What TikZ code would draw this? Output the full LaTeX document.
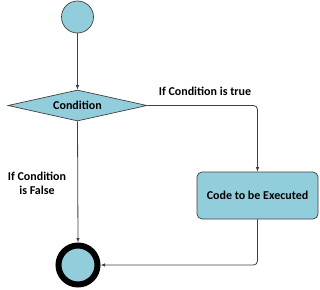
\documentclass[tikz,border=0pt]{standalone}
\usepackage{fontspec}
\setmainfont{Carlito}
\usetikzlibrary{shapes.geometric,arrows.meta}
\definecolor{shapefill}{RGB}{146,205,220}
\definecolor{edgegray}{RGB}{64,64,64}
\tikzset{
  flow/.style={draw=edgegray, line width=0.8pt, -{Latex[length=4.5pt,width=3.5pt]}, rounded corners=4pt},
  startnode/.style={circle, draw=edgegray, line width=0.7pt, fill=shapefill, minimum size=32pt, inner sep=0pt},
  endnode/.style={circle, draw=black, line width=6pt, fill=shapefill, minimum size=39pt, inner sep=0pt},
  decision/.style={diamond, draw=edgegray, line width=0.7pt, fill=shapefill, minimum width=139pt, minimum height=31pt, inner sep=0pt, aspect=4.5, font=\bfseries\fontsize{12}{14}\selectfont},
  action/.style={rectangle, rounded corners=5pt, draw=edgegray, line width=0.7pt, fill=shapefill, minimum width=121pt, minimum height=47pt, inner sep=0pt, font=\bfseries\fontsize{12}{14}\selectfont},
  lbl/.style={font=\bfseries\fontsize{12}{14}\selectfont, align=center, inner sep=0pt}
}
\begin{document}
\begin{tikzpicture}[x=1pt,y=-1pt]
\useasboundingbox (0,0) rectangle (320,289);
\node[startnode] (start) at (77.5,17) {};
\node[decision] (cond) at (77.5,105.5) {Condition};
\node[action] (code) at (257.5,195.5) {Code to be Executed};
\node[endnode] (stop) at (78,265) {};
\coordinate (c1) at (257.5,105.5);
\coordinate (c2) at (257.5,265);
\draw[flow] (start) -- (cond);
\draw[flow] (cond.east) -- (c1) -- (code.north);
\draw[flow] (cond.south) -- (stop.north);
\draw[flow] (code.south) -- (c2) -- (stop.east);
\node[lbl] (ltrue) at (205,91.5) {If Condition is true};
\node[lbl] (lfalse) at (37,183.5) {If Condition\\is False};
\end{tikzpicture}
\end{document}
